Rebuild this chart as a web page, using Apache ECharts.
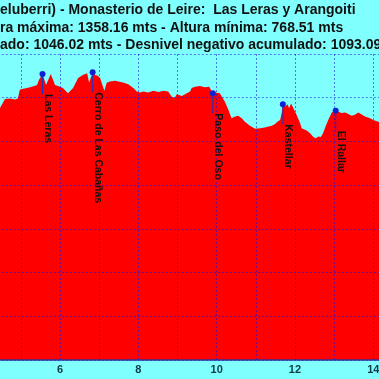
<!DOCTYPE html>
<html>
<head>
<meta charset="utf-8">
<script src="https://cdn.jsdelivr.net/npm/echarts@6/dist/echarts.min.js"></script>
<style>
html,body{margin:0;padding:0;background:#80ffff;}
#c{width:379px;height:379px;}
</style>
</head>
<body>
<div id="c"></div>
<script>
// Title lines (partially outside the visible window in the reference)
const titleLines = [
  "Castillonuevo (Gazteluberri) - Monasterio de Leire:  Las Leras y Arangoiti",
  "Altura máxima: 1358.16 mts - Altura mínima: 768.51 mts",
  "Desnivel positivo acumulado: 1046.02 mts - Desnivel negativo acumulado: 1093.09 mts"
];
const titleHiddenPrefix = ["Castillonuevo (Gazt", "Altu", "Desnivel positivo acumul"];

// Profile: distance (km) and altitude (m)
const kms = [
  4.45, 4.59, 4.72, 4.85, 4.92, 4.97, 5.03, 5.15, 5.28, 5.41,
  5.46, 5.55, 5.64, 5.76, 5.87, 6.00, 6.07, 6.20, 6.25, 6.33,
  6.46, 6.58, 6.69, 6.74, 6.83, 6.89, 6.96, 7.02, 7.06, 7.13,
  7.19, 7.27, 7.40, 7.49, 7.61, 7.74, 7.87, 7.96, 8.04, 8.12,
  8.25, 8.38, 8.51, 8.64, 8.76, 8.85, 8.93, 8.98, 9.11, 9.19,
  9.32, 9.36, 9.45, 9.57, 9.70, 9.81, 9.85, 9.90, 9.96, 10.08,
  10.13, 10.21, 10.30, 10.38, 10.47, 10.55, 10.64, 10.72, 10.85, 10.98,
  11.11, 11.23, 11.32, 11.41, 11.49, 11.55, 11.62, 11.66, 11.69, 11.75,
  11.81, 11.85, 11.90, 11.96, 12.04, 12.13, 12.17, 12.21, 12.30, 12.38,
  12.47, 12.53, 12.60, 12.66, 12.72, 12.78, 12.85, 12.94, 13.04, 13.11,
  13.19, 13.28, 13.36, 13.45, 13.53, 13.62, 13.66, 13.79, 13.92, 14.00,
  14.20
];
const alts = [
  1274, 1297, 1298, 1296, 1298, 1318, 1320, 1322, 1325, 1329,
  1341, 1354, 1329, 1354, 1329, 1325, 1322, 1310, 1308, 1322,
  1345, 1352, 1356, 1334, 1358.16, 1352, 1350, 1345, 1334, 1316,
  1334, 1337, 1339, 1337, 1335, 1331, 1322, 1314, 1312, 1314,
  1312, 1316, 1313, 1316, 1314, 1302, 1300, 1308, 1304, 1308,
  1314, 1322, 1325, 1327, 1324, 1325, 1328, 1310, 1312, 1310,
  1306, 1291, 1272, 1253, 1257, 1259, 1253, 1245, 1236, 1229,
  1230, 1232, 1234, 1236, 1240, 1245, 1249, 1265, 1285, 1280,
  1285, 1276, 1287, 1276, 1261, 1242, 1230, 1226, 1225, 1219,
  1210, 1207, 1211, 1210, 1219, 1234, 1249, 1266, 1270, 1268,
  1265, 1266, 1263, 1259, 1261, 1266, 1263, 1257, 1253, 1249,
  1243
];

// Waypoints
const peakNames = ["Las Leras", "Cerro de Las Cabañas", "Paso del Oso", "Kastellar", "El Rallar"];
const peakKm = [5.55, 6.83, 9.90, 11.69, 13.04];
const peakAlt = [1354, 1358.16, 1310, 1285, 1270];

// Axis ticks
const xLabelValues = [6, 8, 10, 12, 14];

const titleFont = 'bold 14px "Liberation Sans", Arial, sans-serif';
const mctx = document.createElement('canvas').getContext('2d');
mctx.font = titleFont;
const titleY = [10, 28, 45];
const titleGraphics = titleLines.map((t, i) => ({
  type: 'text',
  x: -mctx.measureText(titleHiddenPrefix[i]).width,
  y: titleY[i],
  z: 100,
  style: {
    text: t,
    font: titleFont,
    fill: '#111111',
    textAlign: 'left',
    textVerticalAlign: 'middle'
  }
}));

const chart = echarts.init(document.getElementById('c'), null, {renderer: 'canvas'});
const gridColor = 'rgba(20,20,220,0.55)';

chart.setOption({
  backgroundColor: '#80ffff',
  animation: false,
  graphic: titleGraphics,
  grid: {
    left: -18.14,
    right: -33.4,
    top: 54,
    bottom: 19,
    containLabel: false,
    outerBoundsMode: 'none'
  },
  xAxis: {
    type: 'value',
    min: 4,
    max: 15,
    interval: 1,
    z: 5,
    axisLine: {show: true, onZero: false, lineStyle: {color: '#3030a0', width: 1.5}},
    axisTick: {show: false},
    axisLabel: {
      color: '#0b3b46',
      fontWeight: 'bold',
      fontSize: 11,
      fontFamily: '"Liberation Sans", Arial, sans-serif',
      margin: 4,
      formatter: v => (xLabelValues.indexOf(v) >= 0 ? String(v) : '')
    },
    splitLine: {show: true, lineStyle: {color: gridColor, type: [2, 2], width: 1}}
  },
  yAxis: {
    type: 'value',
    min: 700,
    max: 1400,
    interval: 100,
    z: 5,
    axisLine: {show: false},
    axisTick: {show: false},
    axisLabel: {show: false},
    splitLine: {show: true, lineStyle: {color: gridColor, type: [2, 2], width: 1}}
  },
  series: [
    {
      type: 'line',
      data: kms.map((k, i) => [k, alts[i]]),
      showSymbol: false,
      symbol: 'none',
      lineStyle: {width: 0, color: '#ff0000'},
      areaStyle: {color: '#ff0000', opacity: 1, origin: 'start'},
      z: 2
    },
    {
      type: 'custom',
      z: 10,
      data: peakKm.map((k, i) => [k, peakAlt[i], i]),
      renderItem: function (params, api) {
        const p = api.coord([api.value(0), api.value(1)]);
        const name = peakNames[api.value(2)];
        return {
          type: 'group',
          children: [
            {type: 'line', shape: {x1: p[0], y1: p[1], x2: p[0], y2: p[1] + 20},
             style: {stroke: '#2030c0', lineWidth: 1}},
            {type: 'circle', shape: {cx: p[0], cy: p[1], r: 3}, style: {fill: '#1020d0'}},
            {type: 'text', x: p[0], y: p[1] + 20, rotation: -Math.PI / 2,
             style: {text: name, font: 'bold 10.5px "Liberation Sans", Arial, sans-serif',
                     fill: '#111111', textAlign: 'left', textVerticalAlign: 'bottom'}}
          ]
        };
      }
    }
  ]
});
</script>
</body>
</html>
